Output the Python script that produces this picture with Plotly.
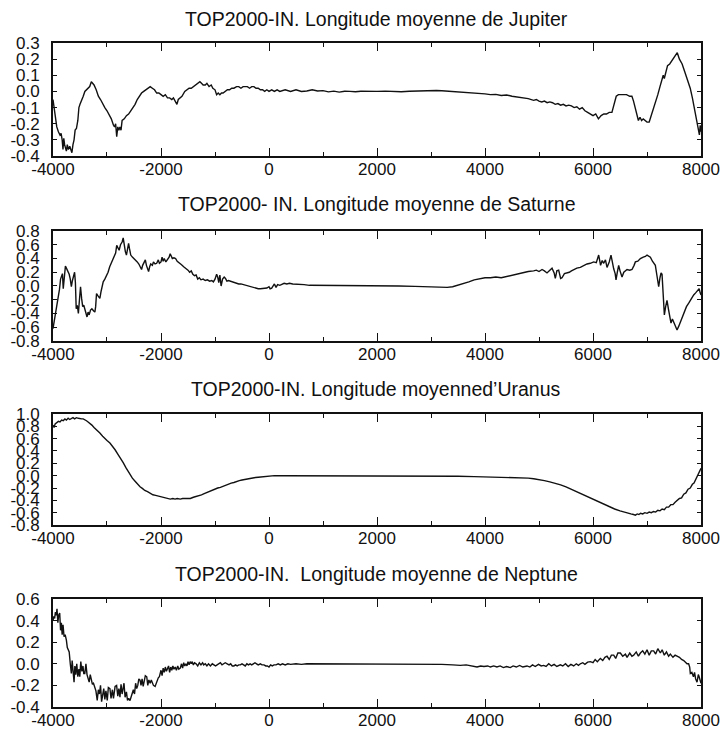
import plotly.graph_objects as go

# ---------------------------------------------------------------
# TOP2000-IN : écarts de longitude moyenne (Jupiter, Saturne,
# Uranus, Neptune) sur l'intervalle -4000 .. +8000
# ---------------------------------------------------------------

TITLES = [
    "TOP2000-IN. Longitude moyenne de Jupiter",
    "TOP2000- IN. Longitude moyenne de Saturne",
    "TOP2000-IN. Longitude moyenned\u2019Uranus",
    "TOP2000-IN.  Longitude moyenne de Neptune",
]

X_TICKS = [-4000, -2000, 0, 2000, 4000, 6000, 8000]

Y_TICKS_JUP = [-0.4, -0.3, -0.2, -0.1, 0.0, 0.1, 0.2, 0.3]
Y_TICKS_SAT = [-0.8, -0.6, -0.4, -0.2, 0.0, 0.2, 0.4, 0.6, 0.8]
Y_TICKS_URA = [-0.8, -0.6, -0.4, -0.2, 0.0, 0.2, 0.4, 0.6, 0.8, 1.0]
Y_TICKS_NEP = [-0.4, -0.2, 0.0, 0.2, 0.4, 0.6]

# ---------------- Jupiter ----------------
X_JUP = [
    -4000, -3980, -3960, -3930, -3900, -3870, -3850, -3830, -3815, -3800,
    -3785, -3770, -3752, -3735, -3715, -3690, -3670, -3650, -3630, -3610,
    -3590, -3566, -3540, -3520, -3500, -3470, -3440, -3410, -3380, -3350,
    -3320, -3290, -3270, -3240, -3200, -3160, -3120, -3080, -3040, -3000,
    -2950, -2920, -2880, -2860, -2840, -2820, -2800, -2780, -2760, -2740,
    -2720, -2680, -2640, -2600, -2560, -2520, -2480, -2440, -2400, -2360,
    -2320, -2280, -2240, -2200, -2160, -2120, -2080, -2040, -2000, -1960,
    -1920, -1880, -1840, -1800, -1770, -1740, -1705, -1680, -1650, -1612,
    -1560, -1520, -1480, -1440, -1400, -1360, -1320, -1280, -1250, -1220,
    -1180, -1150, -1110, -1070, -1040, -1000, -970, -940, -910, -880,
    -850, -810, -770, -730, -690, -650, -600, -560, -520, -480,
    -440, -400, -360, -320, -280, -240, -200, -160, -120, -80,
    -40, 0, 50, 100, 150, 200, 300, 400, 500, 600,
    700, 800, 900, 1000, 1100, 1200, 1300, 1400, 1500, 1600,
    1700, 1800, 1900, 2000, 2150, 2300, 2450, 2600, 2750, 2900,
    3000, 3100, 3200, 3300, 3400, 3500, 3600, 3700, 3800, 3900,
    4000, 4100, 4200, 4300, 4400, 4500, 4600, 4700, 4800, 4900,
    4950, 5000, 5050, 5100, 5150, 5200, 5250, 5300, 5350, 5400,
    5450, 5500, 5550, 5600, 5650, 5700, 5750, 5800, 5850, 5900,
    5950, 6000, 6050, 6100, 6150, 6200, 6250, 6300, 6350, 6380,
    6400, 6430, 6470, 6520, 6570, 6620, 6680, 6720, 6750, 6780,
    6810, 6840, 6870, 6900, 6930, 6960, 7000, 7040, 7070, 7100,
    7150, 7200, 7240, 7280, 7300, 7320, 7350, 7380, 7420, 7460,
    7500, 7540, 7560, 7600, 7650, 7700, 7750, 7800, 7840, 7870,
    7900, 7930, 7950, 7970, 7985, 8000,
]
JUPITER = [
    -0.05, -0.10, -0.14, -0.22, -0.25, -0.27, -0.26, -0.30, -0.36, -0.29,
    -0.33, -0.36, -0.37, -0.33, -0.36, -0.34, -0.37, -0.38, -0.33, -0.30,
    -0.24, -0.23, -0.18, -0.10, -0.08, -0.06, -0.03, 0.00, 0.01, 0.02,
    0.03, 0.06, 0.05, 0.04, 0.01, -0.03, -0.05, -0.08, -0.10, -0.12,
    -0.15, -0.17, -0.21, -0.22, -0.20, -0.28, -0.22, -0.24, -0.22, -0.24,
    -0.18, -0.17, -0.15, -0.14, -0.12, -0.10, -0.08, -0.05, -0.03, -0.01,
    0.00, 0.01, 0.02, 0.03, 0.02, 0.01, -0.01, -0.01, -0.02, -0.03,
    -0.02, -0.04, -0.04, -0.05, -0.04, -0.06, -0.08, -0.05, -0.04, -0.03,
    0.00, 0.01, 0.02, 0.02, 0.03, 0.04, 0.05, 0.06, 0.05, 0.04,
    0.04, 0.05, 0.03, 0.04, 0.02, 0.01, -0.02, -0.01, -0.02, -0.01,
    -0.01, 0.00, 0.01, 0.01, 0.02, 0.02, 0.03, 0.03, 0.02, 0.03,
    0.03, 0.03, 0.02, 0.03, 0.03, 0.02, 0.02, 0.01, 0.01, 0.00,
    0.01, 0.00, 0.01, 0.00, 0.01, 0.00, 0.01, 0.00, 0.01, 0.00,
    0.003, 0.01, 0.003, 0.005, -0.003, 0.002, -0.004, 0.001, 0.00, -0.002,
    0.001, 0.00, -0.002, 0.00, 0.002, 0.00, -0.002, 0.001, 0.003, 0.004,
    0.004, 0.006, 0.004, 0.002, 0.00, -0.004, -0.006, -0.01, -0.012, -0.013,
    -0.015, -0.02, -0.018, -0.025, -0.022, -0.03, -0.035, -0.04, -0.045, -0.055,
    -0.05, -0.06, -0.065, -0.06, -0.07, -0.065, -0.07, -0.08, -0.075, -0.085,
    -0.08, -0.09, -0.085, -0.09, -0.10, -0.095, -0.11, -0.10, -0.12, -0.13,
    -0.14, -0.15, -0.14, -0.17, -0.15, -0.14, -0.14, -0.13, -0.13, -0.09,
    -0.06, -0.03, -0.02, -0.02, -0.02, -0.02, -0.03, -0.03, -0.06, -0.10,
    -0.15, -0.18, -0.16, -0.18, -0.17, -0.18, -0.19, -0.19, -0.16, -0.13,
    -0.08, -0.02, 0.03, 0.07, 0.10, 0.08, 0.13, 0.16, 0.17, 0.19,
    0.21, 0.23, 0.24, 0.20, 0.17, 0.12, 0.07, 0.02, -0.04, -0.09,
    -0.14, -0.19, -0.24, -0.27, -0.21, -0.25,
]

# ---------------- Saturne ----------------
X_SAT = [
    -4000, -3970, -3940, -3910, -3880, -3860, -3845, -3825, -3810, -3790,
    -3770, -3752, -3730, -3700, -3680, -3660, -3640, -3620, -3600, -3585,
    -3570, -3550, -3530, -3510, -3490, -3470, -3450, -3430, -3410, -3390,
    -3370, -3350, -3330, -3305, -3280, -3250, -3225, -3210, -3194, -3170,
    -3150, -3132, -3110, -3090, -3070, -3040, -3010, -2980, -2950, -2920,
    -2890, -2860, -2840, -2820, -2800, -2775, -2750, -2720, -2700, -2680,
    -2660, -2640, -2620, -2600, -2585, -2560, -2530, -2500, -2470, -2440,
    -2410, -2390, -2360, -2340, -2310, -2290, -2270, -2250, -2230, -2210,
    -2190, -2160, -2140, -2110, -2080, -2050, -2030, -2000, -1980, -1960,
    -1940, -1910, -1880, -1850, -1830, -1810, -1790, -1760, -1730, -1700,
    -1660, -1620, -1580, -1540, -1500, -1470, -1440, -1410, -1380, -1350,
    -1320, -1290, -1260, -1220, -1180, -1140, -1100, -1060, -1030, -1000,
    -970, -950, -930, -910, -887, -860, -830, -806, -780, -750,
    -713, -680, -640, -600, -560, -520, -480, -440, -400, -360,
    -320, -280, -240, -200, -160, -120, -80, -40, 0, 20,
    50, 80, 100, 130, 160, 200, 240, 280, 330, 380,
    440, 500, 580, 650, 750, 850, 950, 1100, 1300, 1500,
    1800, 2100, 2400, 2700, 3000, 3300, 3400, 3500, 3600, 3700,
    3800, 3900, 4000, 4100, 4200, 4300, 4400, 4500, 4600, 4700,
    4800, 4900, 4950, 5000, 5056, 5100, 5148, 5200, 5241, 5280,
    5302, 5330, 5364, 5400, 5426, 5470, 5519, 5560, 5600, 5650,
    5700, 5765, 5830, 5889, 5950, 6012, 6060, 6105, 6140, 6170,
    6198, 6230, 6259, 6300, 6333, 6360, 6383, 6410, 6426, 6450,
    6475, 6500, 6537, 6570, 6600, 6630, 6680, 6722, 6760, 6784,
    6830, 6877, 6930, 6970, 7000, 7030, 7062, 7100, 7154, 7190,
    7216, 7240, 7260, 7278, 7300, 7321, 7345, 7370, 7400, 7420,
    7444, 7470, 7494, 7520, 7556, 7590, 7620, 7648, 7690, 7730,
    7772, 7820, 7864, 7900, 7938, 7965, 7985, 8000,
]
SATURNE = [
    -0.62, -0.48, -0.38, -0.20, -0.05, 0.10, 0.14, 0.18, -0.04, 0.15,
    0.29, 0.26, 0.22, 0.17, 0.10, -0.01, 0.08, 0.15, 0.20, 0.05,
    -0.33, -0.28, -0.40, -0.20, -0.01, -0.18, -0.30, -0.28, -0.35, -0.40,
    -0.45, -0.38, -0.42, -0.35, -0.33, -0.36, -0.38, -0.30, -0.11, -0.14,
    -0.16, -0.18, -0.08, 0.02, 0.06, 0.10, 0.14, 0.20, 0.28, 0.33,
    0.40, 0.45, 0.48, 0.59, 0.55, 0.52, 0.60, 0.64, 0.70, 0.58,
    0.50, 0.45, 0.52, 0.62, 0.55, 0.45, 0.42, 0.40, 0.38, 0.35,
    0.32, 0.28, 0.24, 0.30, 0.36, 0.38, 0.30, 0.25, 0.21, 0.28,
    0.32, 0.30, 0.35, 0.32, 0.33, 0.38, 0.33, 0.35, 0.42, 0.36,
    0.40, 0.35, 0.38, 0.42, 0.47, 0.43, 0.40, 0.41, 0.40, 0.36,
    0.34, 0.31, 0.28, 0.26, 0.23, 0.20, 0.22, 0.17, 0.15, 0.16,
    0.10, 0.12, 0.09, 0.10, 0.08, 0.09, 0.07, 0.08, 0.06, 0.10,
    0.17, 0.13, 0.05, 0.16, 0.00, 0.10, 0.13, 0.11, 0.07, 0.08,
    0.07, 0.06, 0.05, 0.04, 0.03, 0.03, 0.02, 0.01, 0.00, -0.01,
    -0.02, -0.03, -0.03, -0.04, -0.04, -0.04, -0.04, -0.03, -0.01, -0.04,
    -0.03, 0.02, 0.03, -0.02, 0.02, 0.01, 0.03, 0.04, 0.03, 0.04,
    0.03, 0.03, 0.02, 0.02, 0.01, 0.01, 0.00, 0.00, 0.00, 0.00,
    0.00, 0.00, 0.00, -0.005, -0.01, -0.02, -0.01, 0.01, 0.03, 0.06,
    0.09, 0.11, 0.12, 0.12, 0.13, 0.12, 0.14, 0.16, 0.17, 0.20,
    0.21, 0.22, 0.23, 0.21, 0.24, 0.22, 0.19, 0.23, 0.26, 0.19,
    0.11, 0.22, 0.23, 0.11, 0.12, 0.18, 0.19, 0.20, 0.22, 0.24,
    0.26, 0.27, 0.30, 0.32, 0.33, 0.35, 0.34, 0.45, 0.30, 0.37,
    0.33, 0.38, 0.27, 0.35, 0.45, 0.30, 0.25, 0.18, 0.09, 0.20,
    0.30, 0.22, 0.13, 0.20, 0.22, 0.24, 0.23, 0.24, 0.30, 0.35,
    0.36, 0.40, 0.42, 0.43, 0.45, 0.43, 0.42, 0.36, 0.30, 0.12,
    -0.01, 0.12, 0.19, 0.17, -0.10, -0.42, -0.30, -0.21, -0.35, -0.45,
    -0.54, -0.48, -0.52, -0.58, -0.64, -0.58, -0.52, -0.45, -0.38, -0.30,
    -0.25, -0.18, -0.13, -0.10, -0.06, -0.04, -0.10, -0.13,
]

# ---------------- Uranus ----------------
X_URA = [
    -4000, -3980, -3960, -3930, -3900, -3870, -3840, -3810, -3780, -3752,
    -3720, -3690, -3660, -3630, -3600, -3566, -3530, -3500, -3470, -3440,
    -3411, -3380, -3350, -3318, -3280, -3240, -3200, -3160, -3132, -3080,
    -3040, -3000, -2946, -2900, -2850, -2800, -2760, -2700, -2650, -2600,
    -2574, -2530, -2480, -2430, -2388, -2340, -2300, -2250, -2202, -2150,
    -2100, -2050, -2016, -1960, -1900, -1860, -1829, -1780, -1740, -1700,
    -1643, -1600, -1560, -1520, -1457, -1400, -1350, -1300, -1250, -1200,
    -1150, -1100, -1050, -1000, -950, -900, -850, -800, -750, -700,
    -650, -600, -550, -500, -450, -400, -350, -300, -250, -200,
    -150, -100, -50, 0, 100, 300, 600, 1000, 1500, 2000,
    2500, 2900, 3200, 3500, 3800, 4100, 4400, 4600, 4800, 4900,
    5000, 5100, 5200, 5300, 5400, 5500, 5600, 5700, 5800, 5900,
    6000, 6100, 6200, 6300, 6400, 6500,
    6600, 6650, 6700, 6750, 6784, 6820, 6850, 6880, 6920, 6960,
    7000, 7040, 7080, 7120, 7160, 7200, 7240, 7280, 7320, 7360,
    7400, 7440, 7480, 7520, 7560, 7600, 7640, 7680, 7720, 7760,
    7800, 7840, 7870, 7900, 7930, 7960, 7980, 8000,
]
URANUS = [
    0.82, 0.78, 0.84, 0.86, 0.88, 0.87, 0.90, 0.89, 0.92, 0.90,
    0.93, 0.91, 0.93, 0.94, 0.92, 0.94, 0.93, 0.92, 0.92, 0.92,
    0.91, 0.89, 0.87, 0.85, 0.82, 0.78, 0.75, 0.71, 0.69, 0.64,
    0.60, 0.57, 0.53, 0.48, 0.42, 0.35, 0.30, 0.21, 0.13, 0.05,
    0.01, -0.04, -0.09, -0.14, -0.18, -0.21, -0.24, -0.26, -0.29, -0.31,
    -0.32, -0.33, -0.34, -0.35, -0.36, -0.38, -0.38, -0.37, -0.38, -0.37,
    -0.38, -0.37, -0.37, -0.36, -0.37, -0.35, -0.34, -0.33, -0.31, -0.29,
    -0.27, -0.25, -0.24, -0.22, -0.20, -0.19, -0.17, -0.16, -0.14, -0.12,
    -0.11, -0.09, -0.08, -0.07, -0.06, -0.05, -0.04, -0.035, -0.03, -0.025,
    -0.02, -0.01, -0.01, -0.005, 0.00, 0.00, 0.00, 0.00, 0.00, 0.00,
    0.00, 0.00, -0.005, -0.01, -0.015, -0.02, -0.025, -0.03, -0.04, -0.05,
    -0.06, -0.08, -0.10, -0.12, -0.15, -0.18, -0.22, -0.26, -0.30, -0.34,
    -0.39, -0.43, -0.47, -0.51, -0.54, -0.57,
    -0.60, -0.61, -0.62, -0.63, -0.64, -0.62, -0.63, -0.61, -0.62, -0.60,
    -0.61, -0.59, -0.60, -0.58, -0.59, -0.56, -0.57, -0.54, -0.55, -0.51,
    -0.51, -0.47, -0.47, -0.43, -0.40, -0.37, -0.36, -0.30, -0.28, -0.22,
    -0.20, -0.14, -0.12, -0.06, -0.03, 0.05, 0.08, 0.12,
]

# ---------------- Neptune ----------------
X_NEP = [
    -4000, -3985, -3970, -3955, -3940, -3926, -3910, -3895, -3876, -3860,
    -3845, -3830, -3814, -3795, -3775, -3752, -3735, -3721, -3700, -3680,
    -3660, -3645, -3630, -3610, -3595, -3578, -3560, -3540, -3520, -3504,
    -3485, -3465, -3445, -3430, -3411, -3390, -3370, -3350, -3330, -3310,
    -3290, -3270, -3250, -3225, -3205, -3181, -3160, -3140, -3120, -3100,
    -3082, -3060, -3040, -3020, -2995, -2975, -2946, -2925, -2900, -2880,
    -2850, -2822, -2800, -2780, -2760, -2740, -2720, -2700, -2685, -2665,
    -2640, -2620, -2600, -2574, -2550, -2530, -2512, -2490, -2470, -2450,
    -2430, -2410, -2388, -2370, -2350, -2330, -2310, -2290, -2264, -2245,
    -2225, -2200, -2180, -2160, -2140, -2109, -2090, -2070, -2050, -2030,
    -2016, -2000, -1980, -1960, -1940, -1920, -1900, -1880, -1860, -1840,
    -1820, -1800, -1780, -1760, -1736, -1715, -1690, -1670, -1643, -1620,
    -1600, -1580, -1560, -1540, -1519, -1500, -1480, -1460, -1440, -1426,
    -1400, -1380, -1350, -1320, -1290, -1260, -1230, -1209, -1180, -1150,
    -1120, -1085, -1050, -1020, -990, -961, -930, -900, -870, -840,
    -810, -775, -740, -710, -680, -651, -620, -590, -560, -530,
    -500, -470, -440, -410, -380, -350, -320, -290, -260, -230,
    -200, -160, -130, -93, -60, -30, 0, 30, 60, 93,
    130, 170, 210, 250, 300, 350, 400, 500, 600, 700,
    800, 1000, 1200, 1500, 1800, 2100, 2400, 2700, 3000, 3200,
    3400, 3543, 3650, 3750, 3852, 3920, 3980, 4050, 4100, 4160,
    4220, 4280, 4340, 4400, 4469, 4520, 4580, 4640, 4700, 4778,
    4830, 4880, 4930, 4990, 5040, 5086, 5130, 5180, 5230, 5280,
    5330, 5395, 5440, 5490, 5540, 5590, 5642, 5690, 5730, 5765,
    5810, 5850, 5900, 5951, 6000, 6040, 6080, 6136, 6180, 6220,
    6259, 6300, 6340, 6383, 6420, 6460, 6506, 6550, 6600, 6630,
    6680, 6720, 6753, 6800, 6840, 6877, 6920, 6960, 7000, 7040,
    7080, 7123, 7160, 7200, 7247, 7280, 7320, 7360, 7400, 7432,
    7480, 7520, 7556, 7600, 7640, 7680, 7741, 7770, 7790, 7802,
    7830, 7860, 7880, 7900, 7926, 7950, 7965, 7980, 8000,
]
NEPTUNE = [
    0.40, 0.44, 0.42, 0.48, 0.45, 0.51, 0.38, 0.45, 0.47, 0.31,
    0.38, 0.27, 0.36, 0.25, 0.27, 0.22, 0.15, 0.13, 0.11, 0.00,
    -0.09, 0.03, -0.05, -0.17, -0.02, -0.10, 0.00, -0.12, -0.05, -0.12,
    0.02, -0.07, -0.02, -0.09, -0.09, 0.00, -0.10, -0.13, -0.17, -0.10,
    -0.15, -0.19, -0.18, -0.21, -0.25, -0.34, -0.24, -0.28, -0.20, -0.35,
    -0.30, -0.23, -0.33, -0.25, -0.34, -0.22, -0.23, -0.32, -0.24, -0.32,
    -0.21, -0.20, -0.30, -0.23, -0.31, -0.19, -0.28, -0.21, -0.18, -0.31,
    -0.26, -0.34, -0.32, -0.34, -0.30, -0.27, -0.24, -0.28, -0.18, -0.23,
    -0.20, -0.14, -0.15, -0.20, -0.14, -0.21, -0.17, -0.11, -0.12, -0.20,
    -0.15, -0.18, -0.15, -0.17, -0.20, -0.21, -0.18, -0.16, -0.13, -0.12,
    -0.10, -0.06, -0.11, -0.04, -0.08, -0.03, -0.07, -0.05, -0.02, -0.08,
    -0.03, -0.06, -0.02, -0.05, -0.03, -0.06, -0.02, -0.05, -0.04, 0.00,
    -0.04, 0.01, -0.02, 0.00, -0.02, 0.02, -0.01, 0.02, 0.00, 0.02,
    -0.01, 0.01, 0.00, -0.02, 0.01, -0.01, 0.01, -0.01, 0.00, -0.02,
    0.00, -0.02, 0.00, -0.01, -0.02, -0.01, 0.00, 0.01, -0.01, 0.00,
    0.01, 0.00, -0.01, 0.00, -0.02, -0.02, -0.01, -0.02, -0.01, -0.01,
    0.00, -0.01, -0.02, 0.00, -0.01, 0.00, -0.01, 0.00, 0.01, 0.00,
    -0.01, 0.00, -0.01, -0.01, -0.02, -0.02, -0.03, -0.01, -0.02, -0.01,
    -0.01, 0.00, -0.01, 0.00, -0.01, 0.00, -0.005, 0.00, -0.005, 0.00,
    0.00, 0.00, 0.00, 0.00, 0.00, 0.00, 0.00, 0.00, 0.00, -0.005,
    -0.01, -0.015, -0.01, -0.02, -0.03, -0.02, -0.025, -0.02, -0.03, -0.02,
    -0.03, -0.02, -0.035, -0.025, -0.035, -0.02, -0.03, -0.015, -0.03, -0.02,
    -0.03, -0.01, -0.025, -0.005, -0.02, -0.015, -0.025, 0.00, -0.02, -0.005,
    -0.025, -0.01, -0.02, 0.00, -0.025, -0.005, -0.02, 0.00, -0.015, 0.00,
    0.01, -0.005, 0.015, 0.02, 0.01, 0.04, 0.02, 0.05, 0.03, 0.06,
    0.07, 0.04, 0.08, 0.08, 0.05, 0.10, 0.10, 0.07, 0.09, 0.06,
    0.10, 0.07, 0.08, 0.11, 0.07, 0.10, 0.12, 0.09, 0.13, 0.08,
    0.12, 0.12, 0.09, 0.14, 0.10, 0.13, 0.08, 0.11, 0.07, 0.09,
    0.06, 0.08, 0.07, 0.06, 0.04, 0.03, 0.00, 0.00, -0.03, -0.09,
    -0.08, -0.12, -0.08, -0.14, -0.17, -0.10, -0.12, -0.15, -0.18,
]

SERIES = [
    (X_JUP, JUPITER, Y_TICKS_JUP, [-0.4, 0.3]),
    (X_SAT, SATURNE, Y_TICKS_SAT, [-0.8, 0.8]),
    (X_URA, URANUS, Y_TICKS_URA, [-0.8, 1.0]),
    (X_NEP, NEPTUNE, Y_TICKS_NEP, [-0.4, 0.6]),
]

# panel frames in paper coordinates (bottom, top)
Y_DOMAINS = [(0.7875, 0.9414), (0.5354, 0.6853), (0.2847, 0.4360), (0.0368, 0.1839)]
TITLE_Y = [0.9740, 0.7215, 0.4695, 0.2180]
X_DOMAIN = [0.0735, 0.9723]

FONT = "Liberation Sans, Arial, Helvetica, sans-serif"
INK = "#111111"

fig = go.Figure()
layout = dict(
    width=721, height=734,
    margin=dict(l=0, r=0, t=0, b=0, autoexpand=False),
    paper_bgcolor="white", plot_bgcolor="white",
    showlegend=False,
    font=dict(family=FONT, color=INK),
    annotations=[],
)

for i, (xs, ys, yt, yr) in enumerate(SERIES):
    n = "" if i == 0 else str(i + 1)
    fig.add_trace(go.Scatter(
        x=xs, y=ys, mode="lines",
        line=dict(color=INK, width=1.4),
        xaxis="x" + n, yaxis="y" + n,
        hoverinfo="skip",
    ))
    layout["xaxis" + n] = dict(
        domain=X_DOMAIN, anchor="y" + n, range=[-4000, 8000],
        tickmode="array", tickvals=X_TICKS, ticktext=[str(v) for v in X_TICKS],
        ticks="inside", ticklen=8, tickwidth=1.2, tickcolor=INK,
        minor=dict(tickmode="linear", tick0=-4000, dtick=1000,
                   ticks="inside", ticklen=4, tickwidth=1.2, tickcolor=INK),
        showline=True, linecolor=INK, linewidth=1.8, mirror="allticks",
        showgrid=False, zeroline=False, automargin=False,
        tickfont=dict(size=17, family=FONT, color=INK),
        ticklabelstandoff=-3,
    )
    layout["yaxis" + n] = dict(
        domain=list(Y_DOMAINS[i]), anchor="x" + n, range=yr,
        tickmode="array", tickvals=yt, ticktext=[f"{v:.1f}" for v in yt],
        ticks="inside", ticklen=4, tickwidth=1.2, tickcolor=INK,
        showline=True, linecolor=INK, linewidth=1.8, mirror="allticks",
        showgrid=False, zeroline=False, automargin=False,
        tickfont=dict(size=17, family=FONT, color=INK),
        ticklabelstandoff=8,
    )
    layout["annotations"].append(dict(
        text=TITLES[i], xref="paper", yref="paper",
        x=0.5215, y=TITLE_Y[i], xanchor="center", yanchor="middle",
        showarrow=False, font=dict(size=19.5, family=FONT, color=INK),
    ))

fig.update_layout(**layout)
fig.write_html("out.html")
